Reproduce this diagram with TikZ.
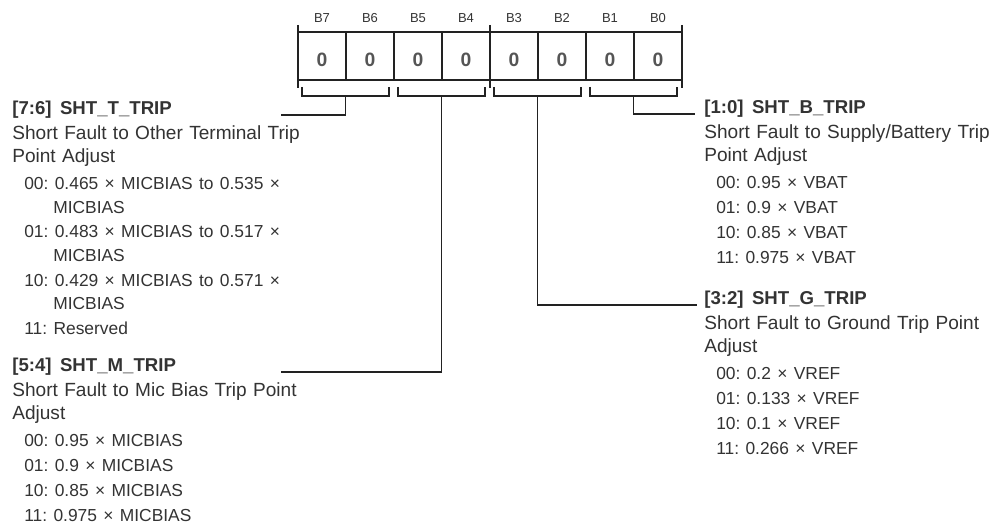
\documentclass[tikz,border=0pt]{standalone}
\usepackage{fontspec}
\setmainfont{Liberation Sans}
\usetikzlibrary{positioning,calc}
\definecolor{RegInk}{HTML}{333333}
\definecolor{RegLine}{HTML}{222222}
\definecolor{RegBit}{HTML}{555555}
\frenchspacing
\newcommand{\fldval}[2]{\hspace*{6.8pt}#1: #2}
\newcommand{\fldcont}{\hspace*{23.3pt}}
\newcommand{\fldhead}[2]{{\fontsize{10.6}{13.3}\selectfont\bfseries #1\hspace{0.45em}#2}}

\begin{document}
\begin{tikzpicture}[x=0.02cm,y=-0.02cm,
  every node/.style={text=RegInk},
  regline/.style={draw=RegLine,line width=0.7pt},
  regcell/.style={draw=RegLine,line width=0.7pt,minimum width=0.96cm,minimum height=0.96cm,
    inner sep=0pt,text=RegBit,font=\fontsize{11}{13}\selectfont\bfseries,
    text height=12.4pt,text depth=0pt},
  bitname/.style={anchor=base,inner sep=0pt,font=\fontsize{7.4}{9}\selectfont},
  fldbox/.style={anchor=base west,align=left,text width=7cm,inner sep=0pt,
    font=\fontsize{10.85}{13.3}\selectfont\frenchspacing}]
  \useasboundingbox (0,0) rectangle (992,527);

  % register cells and bit names
  \foreach \b [count=\i from 0] in {7,...,0} {
    \node[regcell] (b\b) at (322+48*\i,56) {0};
    \node[bitname] (n\b) at (322+48*\i,23) {B\b};
  }
  \draw[regline] (298,25) -- (298,88);
  \draw[regline] (490,25) -- (490,88);
  \draw[regline] (682,25) -- (682,88);

  % field brackets
  \foreach \k/\lo in {76/302,54/398,32/494,10/590} {
    \draw[regline] (\lo,87) |- (\lo+87,96) -- (\lo+87,87);
    \coordinate (br\k) at (\lo+43.5,96);
  }

  % field descriptions
  \node[fldbox] (f76) at (12,115) {\fldhead{[7:6]}{SHT\_T\_TRIP}\\[0.6pt]
    Short Fault to Other Terminal Trip\\Point Adjust\\[2pt]
    {\fontsize{9.9}{13.3}\selectfont
    \fldval{00}{0.465 × MICBIAS to 0.535 ×}\\\fldcont MICBIAS\\[0.9pt]
    \fldval{01}{0.483 × MICBIAS to 0.517 ×}\\\fldcont MICBIAS\\[0.9pt]
    \fldval{10}{0.429 × MICBIAS to 0.571 ×}\\\fldcont MICBIAS\\[0.9pt]
    \fldval{11}{Reserved}}};
  \node[fldbox] (f54) at (12,372) {\fldhead{[5:4]}{SHT\_M\_TRIP}\\[0.6pt]
    Short Fault to Mic Bias Trip Point\\Adjust\\[2pt]
    {\fontsize{9.9}{13.3}\selectfont
    \fldval{00}{0.95 × MICBIAS}\\[0.9pt]
    \fldval{01}{0.9 × MICBIAS}\\[0.9pt]
    \fldval{10}{0.85 × MICBIAS}\\[0.9pt]
    \fldval{11}{0.975 × MICBIAS}}};
  \node[fldbox] (f10) at (704,114) {\fldhead{[1:0]}{SHT\_B\_TRIP}\\[0.6pt]
    Short Fault to Supply/Battery Trip\\Point Adjust\\[2pt]
    {\fontsize{9.9}{13.3}\selectfont
    \fldval{00}{0.95 × VBAT}\\[0.9pt]
    \fldval{01}{0.9 × VBAT}\\[0.9pt]
    \fldval{10}{0.85 × VBAT}\\[0.9pt]
    \fldval{11}{0.975 × VBAT}}};
  \node[fldbox] (f32) at (704,305) {\fldhead{[3:2]}{SHT\_G\_TRIP}\\[0.6pt]
    Short Fault to Ground Trip Point\\Adjust\\[2pt]
    {\fontsize{9.9}{13.3}\selectfont
    \fldval{00}{0.2 × VREF}\\[0.9pt]
    \fldval{01}{0.133 × VREF}\\[0.9pt]
    \fldval{10}{0.1 × VREF}\\[0.9pt]
    \fldval{11}{0.266 × VREF}}};

  % connectors
  \coordinate (e76) at (281,115);
  \coordinate (e54) at (281,372);
  \coordinate (e10) at (695,114);
  \coordinate (e32) at (697,305);
  \draw[regline] (br76) |- (e76);
  \draw[regline] (br54) |- (e54);
  \draw[regline] (br10) |- (e10);
  \draw[regline] (br32) |- (e32);
\end{tikzpicture}
\end{document}
